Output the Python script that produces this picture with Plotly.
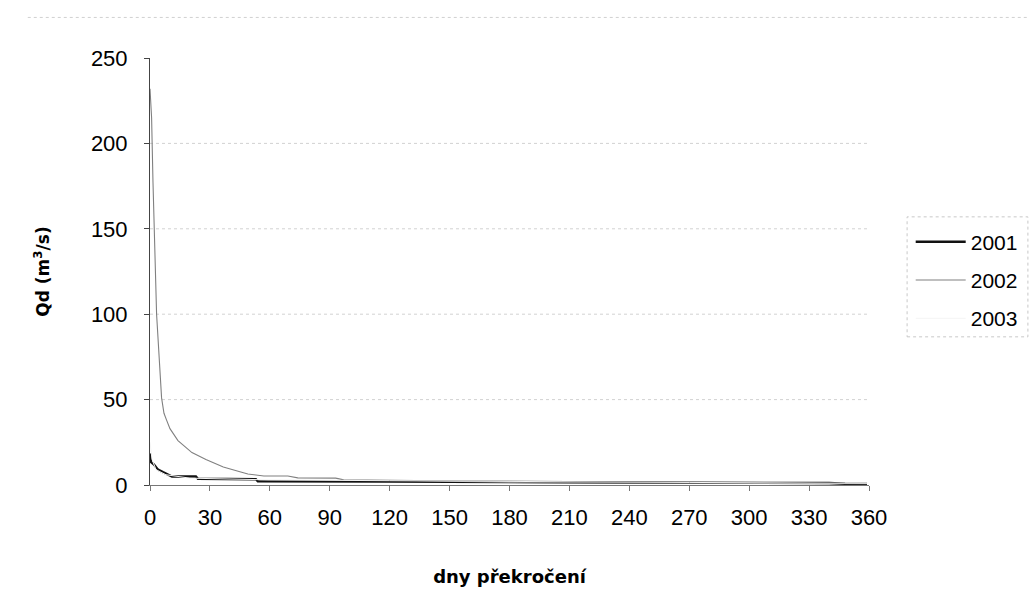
import plotly.graph_objects as go

# Flow duration curves: days exceeded vs. daily discharge Qd (m3/s)
days_2001 = [0, 0.5, 2, 4, 6.5, 9, 11, 23, 24, 53, 54, 120, 180, 270, 340, 348, 359]
qd_2001 = [18.5, 13.5, 12, 9, 7.5, 6, 5, 5, 3.7, 3.4, 2.2, 2.0, 1.6, 1.3, 1.2, 0.7, 0.6]

days_2002 = [0, 0.8, 1.5, 2.2, 3.3, 5.8, 7, 8.3, 10, 14, 21, 28, 36.7, 45, 49, 57, 69, 74, 93, 97,
             133, 180, 210, 270, 330, 359]
qd_2002 = [232, 215, 177, 150, 100, 51, 42, 38, 33, 26, 19, 15, 10.5, 7.8, 6.4, 5.3, 5.3, 4.2, 4.0, 3.0,
           2.6, 1.5, 1.2, 1.0, 0.9, 0.7]

days_2003 = [0, 1, 3, 8, 20, 60, 120, 180, 270, 359]
qd_2003 = [25, 15, 9, 6, 4, 3, 2.5, 2.0, 1.5, 1.0]

x_ticks = [0, 30, 60, 90, 120, 150, 180, 210, 240, 270, 300, 330, 360]
y_ticks = [0, 50, 100, 150, 200, 250]
grid_levels = [50, 100, 150, 200]

FONT = "Arial, Liberation Sans, sans-serif"
TITLE_FONT = "DejaVu Sans, Arial, sans-serif"

fig = go.Figure()
fig.add_trace(go.Scatter(x=days_2001, y=qd_2001, mode="lines", name="2001",
                         legendgroup="a", line=dict(color="#111111", width=2.4)))
fig.add_trace(go.Scatter(x=days_2002, y=qd_2002, mode="lines", name="2002",
                         legendgroup="b", line=dict(color="#808080", width=1.1)))
fig.add_trace(go.Scatter(x=days_2003, y=qd_2003, mode="lines", name="2003",
                         legendgroup="c", line=dict(color="#f4f4f4", width=1)))

# dotted horizontal gridlines (none at the top of the range)
for g in grid_levels:
    fig.add_shape(type="line", xref="paper", x0=0, x1=1, yref="y", y0=g, y1=g,
                  line=dict(color="#d2d2d2", width=1, dash="dot"), layer="below")

# faint chart-area border at the top
fig.add_shape(type="line", xref="paper", yref="paper", x0=-0.17, x1=1.22, y0=1.095, y1=1.095,
              line=dict(color="#d0d0d0", width=1, dash="dot"))

# faint dotted frame around the legend
fig.add_shape(type="rect", xref="paper", yref="paper", x0=1.053, x1=1.221, y0=0.347, y1=0.628,
              line=dict(color="#c8c8c8", width=1, dash="dot"), layer="below")

fig.update_layout(
    width=1035, height=603,
    margin=dict(l=150, r=166, t=58, b=118),
    paper_bgcolor="white", plot_bgcolor="white",
    font=dict(family=FONT, color="black", size=22),
    showlegend=True,
    legend=dict(x=1.058, y=0.48, xanchor="left", yanchor="middle",
                font=dict(size=21, family=FONT), traceorder="grouped",
                tracegroupgap=8, itemwidth=50,
                borderwidth=0, bgcolor="rgba(0,0,0,0)"),
    xaxis=dict(range=[0, 360], tickvals=x_ticks, ticktext=[str(v) for v in x_ticks],
               showgrid=False, zeroline=False, showline=True, linecolor="#777777",
               linewidth=1, ticks="outside", ticklen=5, tickcolor="#777777",
               tickfont=dict(size=22), ticklabelstandoff=8,
               title=dict(text="<b>dny překročení</b>",
                          font=dict(size=18, family=TITLE_FONT), standoff=40)),
    yaxis=dict(range=[0, 250], tickvals=y_ticks, ticktext=[str(v) for v in y_ticks],
               showgrid=False, zeroline=False, showline=True, linecolor="#444444",
               linewidth=1, ticks="outside", ticklen=5, tickcolor="#444444",
               tickfont=dict(size=22), ticklabelstandoff=12,
               title=dict(text="<b>Qd (m<sup>3</sup>/s)</b>",
                          font=dict(size=17, family=TITLE_FONT), standoff=36)),
)

fig.write_html("out.html")
